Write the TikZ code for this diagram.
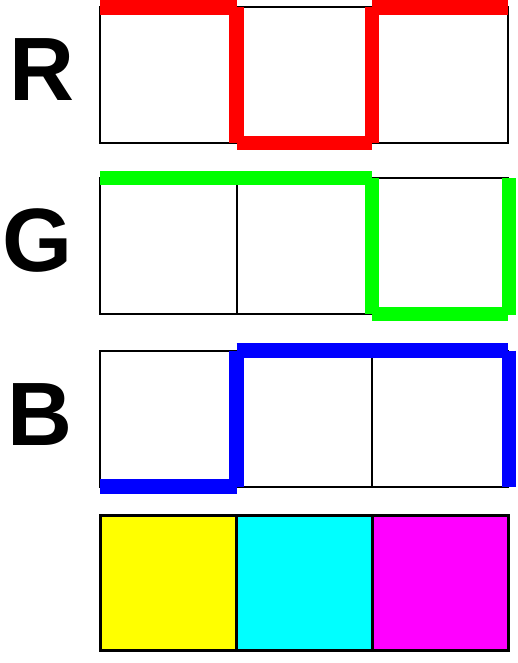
\documentclass[tikz,border=0pt]{standalone}
\usepackage{fontspec}
\setmainfont{Liberation Sans}
\definecolor{pRed}{RGB}{255,0,0}
\definecolor{pGreen}{RGB}{0,255,0}
\definecolor{pBlue}{RGB}{0,0,255}
\definecolor{pYellow}{RGB}{255,255,0}
\definecolor{pCyan}{RGB}{0,255,255}
\definecolor{pMagenta}{RGB}{255,0,255}
\begin{document}
\begin{tikzpicture}[x=1pt,y=-1pt,
  boxline/.style={draw=black,line width=2pt},
  cmyline/.style={draw=black,line width=3pt},
  pathline/.style={line width=14.5pt,line cap=butt},
  letter/.style={inner sep=0pt,font=\fontsize{90}{90}\selectfont\bfseries}]
\useasboundingbox (0,0) rectangle (517,663);
\def\xa{100}\def\xb{236.7}\def\xc{372}\def\xd{507.5}
% R row
\draw[boxline] (\xa,7) rectangle (\xd,143);
\draw[boxline] (\xb,7) -- (\xb,143) (\xc,7) -- (\xc,143);
\draw[pathline,pRed] (\xa,7.5) -- (\xb,7.5);
\draw[pathline,pRed] (\xb,7.5) -- (\xb,143);
\draw[pathline,pRed] (\xb,143) -- (\xc,143);
\draw[pathline,pRed] (\xc,143) -- (\xc,7.5);
\draw[pathline,pRed] (\xc,7.5) -- (\xd,7.5);
% G row
\draw[boxline] (\xa,178) rectangle (\xd,314);
\draw[boxline] (\xb,178) -- (\xb,314) (\xc,178) -- (\xc,314);
\draw[pathline,pGreen] (\xa,178) -- (\xc,178);
\draw[pathline,pGreen] (\xc,178) -- (\xc,314);
\draw[pathline,pGreen] (\xc,314) -- (\xd,314);
\draw[pathline,pGreen] (509,314.5) -- (509,178);
% B row
\draw[boxline] (\xa,350.5) rectangle (\xd,486.5);
\draw[boxline] (\xb,350.5) -- (\xb,486.5) (\xc,350.5) -- (\xc,486.5);
\draw[pathline,pBlue] (\xa,486.5) -- (\xb,486.5);
\draw[pathline,pBlue] (\xb,486.5) -- (\xb,350.5);
\draw[pathline,pBlue] (\xb,350.5) -- (\xd,350.5);
\draw[pathline,pBlue] (509,350.5) -- (509,486.5);
% CMY row
\fill[pYellow] (\xa,515) rectangle (\xb,650);
\fill[pCyan] (\xb,515) rectangle (\xc,650);
\fill[pMagenta] (\xc,515) rectangle (508.3,650);
\draw[cmyline] (\xa,515) rectangle (508.3,650);
\draw[cmyline] (\xb,515) -- (\xb,650) (\xc,515) -- (\xc,650);
% letters
\node[letter] (lr) at (42,70) {R};
\node[letter] (lg) at (38,241) {G};
\node[letter] (lb) at (40,414.5) {B};
\end{tikzpicture}
\end{document}
